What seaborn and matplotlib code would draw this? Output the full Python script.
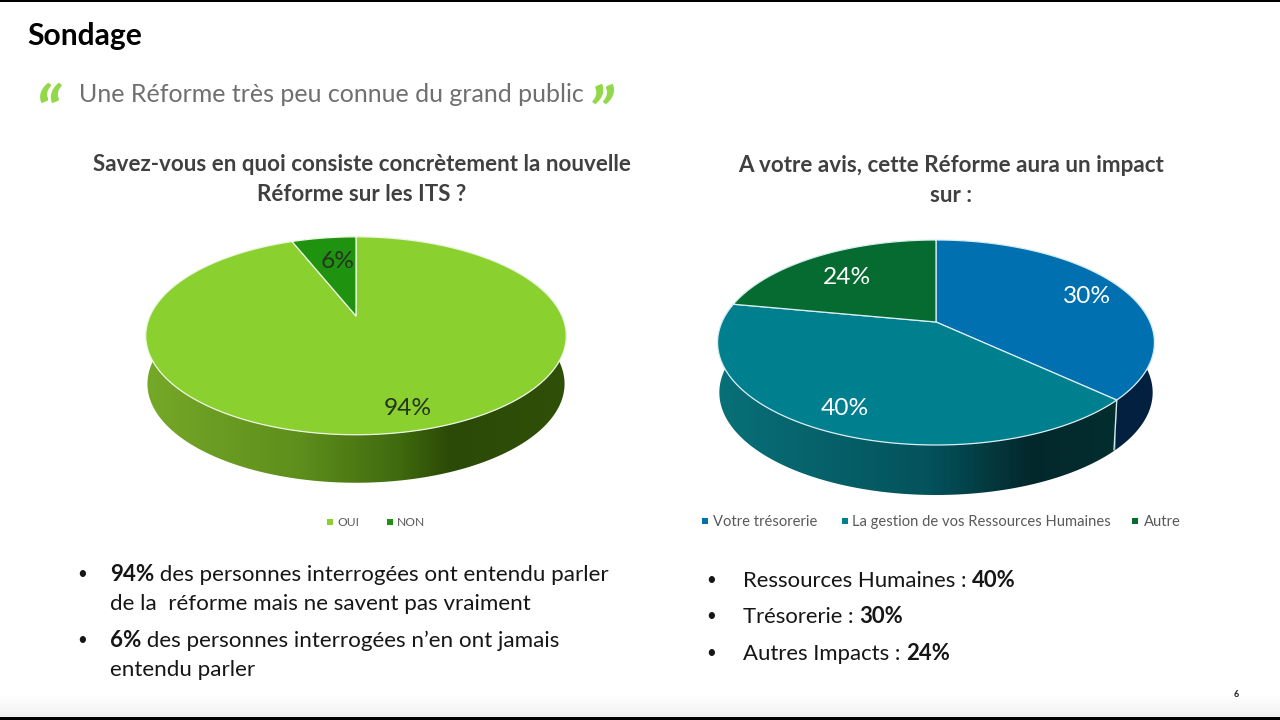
import numpy as np
import pandas as pd
import matplotlib
matplotlib.use("Agg")
import matplotlib.pyplot as plt
import seaborn as sns
from matplotlib.patches import Polygon
from matplotlib.colors import LinearSegmentedColormap

# ---------- data ----------
left_categories = ["OUI", "NON"]
left_shares = [94, 6]
left_labels = ["94%", "6%"]
right_categories = ["Votre trésorerie", "La gestion de vos Ressources Humaines", "Autre"]
right_shares = [37, 41, 22]          # slice sizes as drawn in the picture
right_labels = ["30%", "40%", "24%"]  # percentages as printed on the slices

sns.set_theme(style="white")
FONT = "Lato"
plt.rcParams["font.family"] = [FONT, "DejaVu Sans"]

W, H = 1280, 720
fig = plt.figure(figsize=(W / 100, H / 100), dpi=100, facecolor="white")

# full-figure overlay in pixel units (above the pies so that labels stay on top)
page = fig.add_axes([0, 0, 1, 1], zorder=5)
page.patch.set_alpha(0)
page.set_xlim(0, W)
page.set_ylim(H, 0)
page.axis("off")
shade = LinearSegmentedColormap.from_list("s", ["#ffffff", "#f1f1f1"])
page.imshow(np.linspace(0, 1, 30)[:, None], extent=(0, W, 717, 695), cmap=shade, aspect="auto", zorder=0)
page.set_xlim(0, W)
page.set_ylim(H, 0)
page.axhspan(0, 2, color="black", lw=0, zorder=1)
page.axhspan(717, 720, color="black", lw=0, zorder=1)


def txt(x, y, s, size, color="#111111", weight="normal", ha="left", style="normal", family=None):
    return page.text(x, y, s, fontsize=size * 0.72, color=color, fontweight=weight, ha=ha,
                     va="baseline", fontstyle=style, family=family or FONT, zorder=5)


def rich(x, y, parts, size):
    r = fig.canvas.get_renderer()
    for s, bold in parts:
        t = txt(x, y, s, size, color="#161616", weight="bold" if bold else "normal")
        x += t.get_window_extent(r).width


def pie3d(bbox, apex, A, B, k, depth, shares, top_cols, edge, wall_stops):
    """bbox: axes rectangle in pixels (x0,y0,x1,y1); apex: pie centre in pixels."""
    x0, y0, x1, y1 = bbox
    ax = fig.add_axes([x0 / W, 1 - y1 / H, (x1 - x0) / W, (y1 - y0) / H], zorder=2)
    ax.set_xlim(x0 - apex[0], x1 - apex[0])
    ax.set_ylim(apex[1] - y1, apex[1] - y0)
    ax.axis("off")
    ax.patch.set_alpha(0)

    def rim(t, scale=1.0, drop=0.0):
        sx, sy = np.sin(t), np.cos(t)
        w = 1 + k * sy
        return np.column_stack([A * sx / w * scale, B * sy / w - drop])

    edges = np.cumsum([0] + list(shares)) / np.sum(shares) * 2 * np.pi
    # side walls with horizontal gradients
    for i in range(len(shares)):
        t = np.linspace(edges[i], edges[i + 1], 240)
        poly = np.vstack([rim(t), rim(t[::-1], 0.992, depth)])
        patch = Polygon(poly, closed=True, fc="none", ec="none")
        ax.add_patch(patch)
        xs, cols = zip(*wall_stops[i])
        span = (xs[0], xs[-1])
        pos = (np.array(xs) - span[0]) / (span[1] - span[0])
        cmap = LinearSegmentedColormap.from_list("w", list(zip(pos, cols)))
        im = ax.imshow(np.linspace(0, 1, 512)[None, :],
                       extent=(span[0] - apex[0], span[1] - apex[0], ax.get_ylim()[0], ax.get_ylim()[1]),
                       cmap=cmap, aspect="auto", zorder=1)
        im.set_clip_path(patch)
        ax.set_xlim(x0 - apex[0], x1 - apex[0])
        ax.set_ylim(apex[1] - y1, apex[1] - y0)
        # thin light seam between wall segments
        if i > 0:
            s = rim(np.array([edges[i]]))
            if s[0, 1] < -10:
                ax.plot([s[0, 0], s[0, 0] * 0.985], [s[0, 1], s[0, 1] - depth], color="#cfe6ea", lw=1, zorder=2)
    # top faces
    for i in range(len(shares)):
        t = np.linspace(edges[i], edges[i + 1], 360)
        ax.add_patch(Polygon(np.vstack([[0, 0], rim(t)]), closed=True, fc=top_cols[i], ec=edge,
                             lw=0.9, zorder=3, joinstyle="round"))
    return ax


pie3d((130, 225, 580, 495), (356, 316), 206, 95, 0.2, 48, left_shares,
      ["#8ad02e", "#1f9210"], "#eef7e4",
      [[(145, "#76a828"), (300, "#5e8e1c"), (400, "#3f6a0e"), (450, "#2b4a07"), (567, "#304f08")],
       [(145, "#1f9210"), (567, "#1f9210")]])
pie3d((700, 225, 1175, 505), (936, 322), 214, 98.4, 0.2, 50, right_shares,
      ["#0070b0", "#00808e", "#056b30"], "#d8eef2",
      [[(718, "#02203f"), (1156, "#02203f")],
       [(718, "#087078"), (930, "#04525c"), (1030, "#03282c"), (1156, "#03302f")],
       [(718, "#04502a"), (1156, "#04502a")]])

# slice labels
for (x, y), s in zip([(408, 415), (338, 268)], left_labels):
    txt(x, y, s, 24.5, color="#25351f", ha="center")
for (x, y), s in zip([(1087, 303), (845, 415), (847, 284)], right_labels):
    txt(x, y, s, 24.5, color="white", ha="center")

# headings
txt(27, 45, "Sondage", 30, color="black", weight="bold")
txt(79, 102, "Une Réforme très peu connue du grand public", 25, color="#6f6f6f")
txt(35, 138, "“", 70, color="#92d84a", weight="bold", style="italic")
txt(588, 138, "”", 70, color="#92d84a", weight="bold", style="italic")

for y, s in [(171, "Savez-vous en quoi consiste concrètement la nouvelle"), (201, "Réforme sur les ITS ?")]:
    txt(362, y, s, 22.35, color="#404040", weight="bold", ha="center")
for y, s in [(172, "A votre avis, cette Réforme aura un impact"), (202, "sur :")]:
    txt(951, y, s, 22.35, color="#404040", weight="bold", ha="center")

# legends
leg = pd.DataFrame({
    "x": [330, 390, 705, 845, 1135],
    "y": [522, 522, 521, 521, 521],
    "name": left_categories + right_categories,
})
sns.scatterplot(data=leg, x="x", y="y", hue="name", ax=page, marker="s", s=14, linewidth=0, legend=False, zorder=4,
                palette=dict(zip(leg["name"], ["#8ad02e", "#1f9210", "#0070b0", "#00808e", "#056b30"])))
page.set_xlim(0, W)
page.set_ylim(H, 0)
page.axis("off")
for x, s in zip([337, 397], left_categories):
    txt(x, 526, s, 12, color="#595959")
for x, s in zip([713, 852, 1144], right_categories):
    txt(x, 526, s, 14.7, color="#595959")

# bullets
fig.canvas.draw()
for x, y in [(82, 579), (82, 645), (711, 585), (711, 621), (711, 658)]:
    txt(x, y, "•", 17, color="#161616", ha="center")
rich(110, 581, [("94%", True), (" des personnes interrogées ont entendu parler", False)], 22.35)
rich(110, 610, [("de la  réforme mais ne savent pas vraiment", False)], 22.35)
rich(110, 647, [("6%", True), (" des personnes interrogées n’en ont jamais", False)], 22.35)
rich(110, 676, [("entendu parler", False)], 22.35)
rich(743, 587, [("Ressources Humaines : ", False), ("40%", True)], 22.2)
rich(743, 623, [("Trésorerie : ", False), ("30%", True)], 22.2)
rich(743, 660, [("Autres Impacts : ", False), ("24%", True)], 22.2)
txt(1236, 697, "6", 9, color="#222222", weight="bold", ha="center")

fig.savefig("out.png", dpi=100)
